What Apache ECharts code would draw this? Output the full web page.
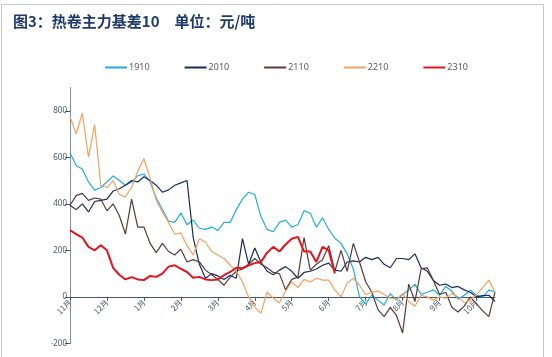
<!DOCTYPE html>
<html><head><meta charset="utf-8">
<script src="https://cdn.jsdelivr.net/npm/echarts@6/dist/echarts.min.js"></script>
<style>html,body{margin:0;padding:0;background:#fff}#c{width:552px;height:357px}</style>
</head><body><div id="c"></div>
<script>
var monthLabels = ['11月','12月','1月','2月','3月','4月','5月','6月','7月','8月','9月','10月'];
var seriesNames = ['1910','2010','2110','2210','2310'];
var s1910 = [620,565,550,494,459,470,494,520,500,480,494,520,528,495,425,375,325,320,360,310,330,295,290,300,285,320,320,375,420,450,440,345,290,280,320,330,300,310,370,360,300,340,290,252,230,185,120,0,-30,7,-14,-35,14,-14,10,30,55,10,20,30,7,45,25,-10,7,29,7,0,29,22];
var s2010 = [394,375,400,365,410,415,420,455,465,480,500,494,516,500,480,450,460,480,490,500,255,140,80,100,90,75,93,80,250,140,210,150,110,95,115,130,110,80,105,110,120,136,145,115,110,150,155,150,170,160,170,140,125,165,165,160,185,125,110,70,50,55,40,45,30,20,0,5,7,-20];
var s2110 = [394,435,445,415,425,420,370,400,350,270,420,300,300,230,190,230,195,180,205,150,160,150,115,95,75,50,85,110,120,140,165,140,125,105,100,30,75,85,255,115,140,160,220,110,200,110,230,150,65,20,-55,-85,-45,-80,-155,55,-20,120,125,70,10,20,-45,-65,-40,0,-30,-60,-85,20];
var s2210 = [775,700,790,600,740,480,470,500,440,430,470,540,595,510,415,365,320,270,275,220,180,250,235,195,180,165,136,110,64,0,-45,-70,20,-6,-25,25,64,40,75,64,80,72,72,30,0,60,80,50,10,20,25,10,-5,-10,14,-20,-40,7,0,-14,0,-6,14,0,-25,-14,10,40,72,20];
var s2310 = [287,270,255,215,200,222,200,125,95,75,85,75,72,90,86,100,130,136,120,107,82,86,75,72,75,93,107,125,123,136,145,150,190,215,195,225,250,258,195,195,150,215,200,100];
var yTicks = {min:-200, max:900, interval:200};

var categories = s1910.map(function(_, i){ return String(i); });
var colors = ['#1FAEDC','#1B2A5C','#5C3A38','#F2A25E','#E3141C'];
var widths = [1.2,1.2,1.2,1.2,2];
var dataList = [s1910,s2010,s2110,s2210,s2310];

var gridTop = 87.5, gridBottom = 13.6, H = 357;
var plotH = H - gridTop - gridBottom;
var zeroOffset = -plotH * (0 - yTicks.min) / (yTicks.max - yTicks.min);

var chart = echarts.init(document.getElementById('c'), null, {renderer:'canvas'});
chart.setOption({
  animation:false,
  backgroundColor:'#fff',
  title:{text:'图3：热卷主力基差10\u3000单位：元/吨', left:8, top:9,
    textStyle:{fontFamily:'Noto Sans CJK SC', fontSize:15, fontWeight:'bold', color:'#1F3B6B'}},
  legend:{top:63, left:104, padding:0, itemWidth:22, itemHeight:2, itemGap:34,
    textStyle:{fontSize:9, color:'#595959', fontFamily:'Noto Sans', padding:[0,0,0,-3]},
    data:seriesNames},
  graphic:[
    {type:'polyline', shape:{points:[[1.5,357],[1.5,4.5],[543.5,4.5],[543.5,357]]}, style:{stroke:'#C8C8C8', lineWidth:1, fill:null}, silent:true}
  ],
  grid:{left:70, right:57, top:gridTop, bottom:gridBottom, containLabel:false, outerBoundsMode:'none'},
  xAxis:{type:'category', data:categories, boundaryGap:false, offset:zeroOffset,
    axisLine:{onZero:false, lineStyle:{color:'#44546A', width:1}},
    axisTick:{show:true, length:4, interval:function(i){return i%6===0;}, lineStyle:{color:'#44546A'}},
    axisLabel:{interval:function(i){return i%6===0;}, rotate:45, margin:4, fontSize:8, color:'#44546A', fontFamily:'Noto Sans CJK SC',
      formatter:function(v, i){ return monthLabels[Math.round(i/6)] || ''; }},
    splitLine:{show:false}},
  yAxis:{type:'value', min:yTicks.min, max:yTicks.max, interval:yTicks.interval,
    axisLine:{show:true, lineStyle:{color:'#7F8FA6', width:1}},
    axisTick:{show:true, length:5, lineStyle:{color:'#44546A'}},
    axisLabel:{fontSize:8, color:'#44546A', margin:3, showMaxLabel:false, fontFamily:'Noto Sans'},
    splitLine:{show:false}},
  series: seriesNames.map(function(n, k){
    return {name:n, type:'line', data:dataList[k], symbol:'none', showSymbol:false,
      lineStyle:{color:colors[k], width:widths[k]}, itemStyle:{color:colors[k]}, z: k===4?10:2+k};
  })
});
</script></body></html>
